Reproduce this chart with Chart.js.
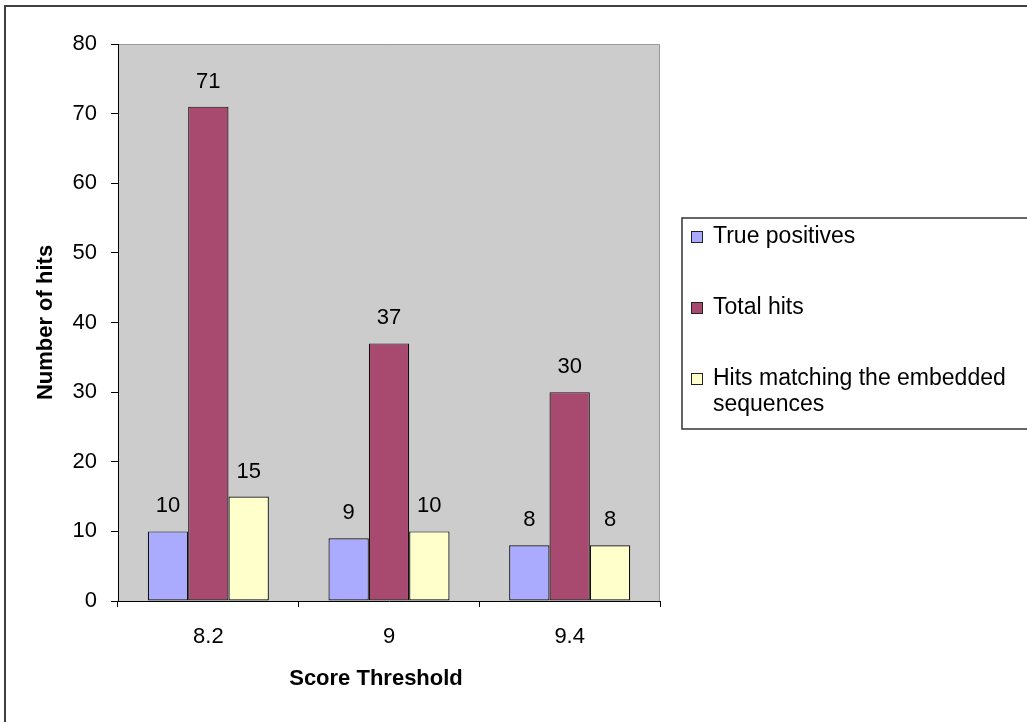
<!DOCTYPE html>
<html>
<head>
<meta charset="utf-8">
<script src="https://cdn.jsdelivr.net/npm/chart.js@4.4.1/dist/chart.umd.min.js"></script>
<style>
  html, body { margin: 0; padding: 0; background: #fff; overflow: hidden; }
  #wrap { width: 1027px; height: 722px; }
</style>
</head>
<body>
<div id="wrap"><canvas id="hitsChart" width="1027" height="722"></canvas></div>
<script>
const categories = ['8.2', '9', '9.4'];
const truePositives = [10, 9, 8];
const totalHits = [71, 37, 30];
const embeddedHits = [15, 10, 8];
const seriesNames = ['True positives', 'Total hits', 'Hits matching the embedded sequences'];
const yMin = 0, yMax = 80, yStep = 10;

const FONT = "'Liberation Sans', Arial, sans-serif";

// frame, grey plot background, value labels and the boxed legend
const decor = {
  id: 'decor',
  beforeDraw(chart) {
    const c = chart.ctx, a = chart.chartArea;
    c.save();
    c.fillStyle = '#fff';
    c.fillRect(0, 0, chart.width, chart.height);
    c.strokeStyle = '#404040';
    c.lineWidth = 2;
    c.strokeRect(5, 6, 2000, 2000);
    c.fillStyle = '#cccccc';
    c.fillRect(a.left, a.top, a.right - a.left, a.bottom - a.top);
    c.strokeStyle = '#999';
    c.lineWidth = 1;
    c.beginPath();
    c.moveTo(a.left, a.top + 0.5);
    c.lineTo(a.right - 0.5, a.top + 0.5);
    c.lineTo(a.right - 0.5, a.bottom);
    c.stroke();
    c.restore();
  },
  afterDraw(chart) {
    const c = chart.ctx, a = chart.chartArea;
    c.save();
    c.fillStyle = '#000';

    // values above bars
    c.font = '22px ' + FONT;
    c.textAlign = 'center';
    c.textBaseline = 'alphabetic';
    chart.data.datasets.forEach((ds, i) => {
      chart.getDatasetMeta(i).data.forEach((bar, j) => {
        c.fillText(String(ds.data[j]), bar.x, bar.y - 19);
      });
    });

    // axis titles
    c.font = 'bold 22px ' + FONT;
    c.textBaseline = 'middle';
    c.fillText('Score Threshold', 376, 679);
    c.save();
    c.translate(46, (a.top + a.bottom) / 2);
    c.rotate(-Math.PI / 2);
    c.fillText('Number of hits', 0, 0);
    c.restore();

    // legend
    c.strokeStyle = '#333';
    c.lineWidth = 1.5;
    c.strokeRect(682, 218, 1000, 211);
    c.font = '23px ' + FONT;
    c.textAlign = 'left';
    c.textBaseline = 'middle';
    let y = 237;
    chart.data.datasets.forEach(ds => {
      c.fillStyle = ds.backgroundColor;
      c.fillRect(691, y - 6, 12, 12);
      c.strokeStyle = '#222';
      c.lineWidth = 1;
      c.strokeRect(691.5, y - 5.5, 11, 11);
      c.fillStyle = '#000';
      const words = ds.label.split(' ');
      const lines = [];
      let line = '';
      words.forEach(w => {
        const t = line ? line + ' ' + w : w;
        if (c.measureText(t).width > 310 && line) { lines.push(line); line = w; }
        else line = t;
      });
      lines.push(line);
      lines.forEach((l, k) => c.fillText(l, 713, y + k * 26));
      y += 71;
    });
    c.restore();
  }
};

new Chart(document.getElementById('hitsChart'), {
  type: 'bar',
  data: {
    labels: categories,
    datasets: [
      { label: seriesNames[0], data: truePositives, backgroundColor: '#aaaaff' },
      { label: seriesNames[1], data: totalHits, backgroundColor: '#a8496f' },
      { label: seriesNames[2], data: embeddedHits, backgroundColor: '#ffffcc' }
    ]
  },
  options: {
    responsive: false,
    animation: false,
    devicePixelRatio: 1,
    datasets: {
      bar: {
        categoryPercentage: 0.67,
        barPercentage: 1,
        borderColor: '#111',
        borderWidth: 1.2,
        borderSkipped: false
      }
    },
    layout: { padding: { top: 44, right: 367, left: 0, bottom: 0 } },
    plugins: {
      legend: { display: false },
      tooltip: { enabled: false }
    },
    scales: {
      x: {
        afterFit(s) { s.height = 121; },
        grid: { offset: true, drawOnChartArea: false, tickLength: 6, color: '#000' },
        border: { color: '#000', width: 1 },
        ticks: { color: '#000', font: { family: FONT, size: 22 }, padding: 17, maxRotation: 0 }
      },
      y: {
        min: yMin,
        max: yMax,
        afterFit(s) { s.width = 118; },
        grid: { drawOnChartArea: false, tickLength: 7, color: '#000' },
        border: { color: '#000', width: 1 },
        ticks: { stepSize: yStep, color: '#000', font: { family: FONT, size: 22 }, padding: 14 }
      }
    }
  },
  plugins: [decor]
});
</script>
</body>
</html>
